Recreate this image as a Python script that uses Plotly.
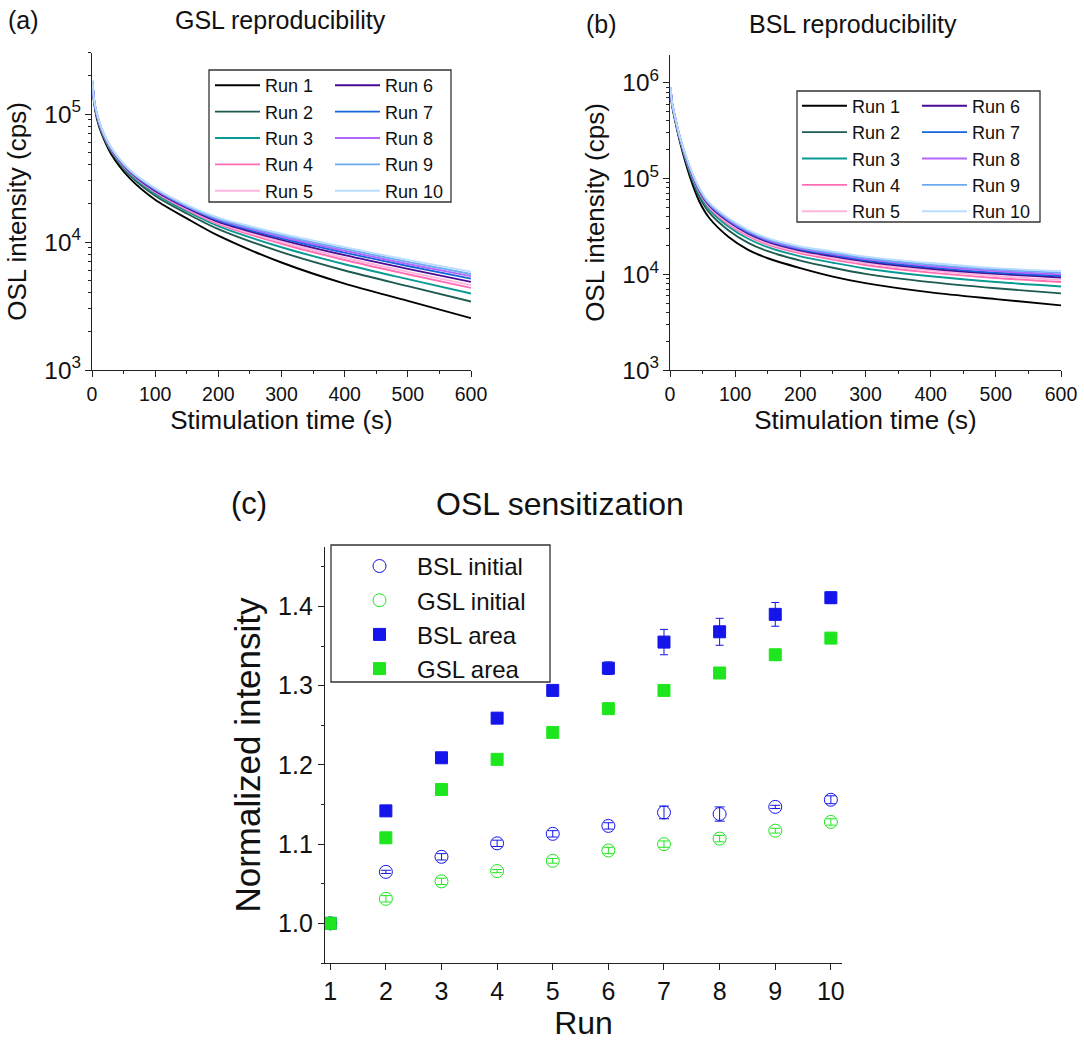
import plotly.graph_objects as go

W, H = 1084, 1046
FONT = "Liberation Sans, Arial, sans-serif"

# ---------------- data ----------------
run_names = [f"Run {i}" for i in range(1, 11)]
run_colors = ["#000000", "#1e5a50", "#0a9a96", "#ff6eb4", "#ffb4dc",
              "#4b0a96", "#1464dc", "#b464ff", "#6eaaf0", "#b9dcff"]

gsl_time = [1, 3, 8, 15, 30, 60, 100, 150, 200, 300, 400, 500, 600]
gsl_run1 = [174000, 126000, 91200, 70800, 49000, 31400, 21400, 15300, 11200, 6920, 4730, 3470, 2540]
gsl_run2 = [177000, 128000, 94300, 73200, 51100, 33200, 23000, 16700, 12600, 8340, 5990, 4520, 3430]
gsl_run3 = [178000, 129000, 95800, 74300, 52100, 34000, 23900, 17400, 13300, 9100, 6700, 5130, 3960]
gsl_run4 = [179000, 130000, 96900, 75200, 52800, 34700, 24500, 17900, 13800, 9690, 7240, 5600, 4380]
gsl_run5 = [180000, 130000, 97400, 75600, 53200, 35000, 24800, 18200, 14100, 10000, 7530, 5850, 4600]
gsl_run6 = [180000, 131000, 98000, 76100, 53600, 35400, 25100, 18500, 14400, 10400, 7890, 6170, 4880]
gsl_run7 = [181000, 131000, 98600, 76500, 54000, 35700, 25500, 18800, 14700, 10700, 8260, 6490, 5170]
gsl_run8 = [181000, 131000, 99000, 76900, 54300, 36000, 25800, 19000, 15000, 11000, 8540, 6740, 5410]
gsl_run9 = [182000, 132000, 99500, 77200, 54700, 36300, 26100, 19200, 15200, 11300, 8830, 6990, 5630]
gsl_run10 = [182000, 132000, 100000, 77600, 55000, 36500, 26300, 19500, 15500, 11600, 9120, 7250, 5870]

bsl_time = [1, 3, 8, 15, 30, 45, 60, 90, 120, 150, 200, 250, 300, 400, 500, 600]
bsl_run1 = [832000, 589000, 398000, 245000, 107000, 57500, 38900, 24500, 18000, 14700, 11600, 9460, 8070, 6460, 5500, 4730]
bsl_run2 = [852000, 603000, 411000, 255000, 116000, 64300, 44300, 28700, 21300, 17400, 13900, 11700, 10100, 8270, 7140, 6320]
bsl_run3 = [864000, 612000, 419000, 261000, 121000, 68700, 47700, 31400, 23500, 19200, 15400, 13200, 11500, 9520, 8290, 7460]
bsl_run4 = [872000, 617000, 424000, 265000, 125000, 71600, 50000, 33200, 25000, 20400, 16500, 14200, 12500, 10400, 9140, 8310]
bsl_run5 = [875000, 620000, 426000, 267000, 127000, 73000, 51100, 34200, 25700, 21000, 17100, 14800, 13000, 10900, 9550, 8730]
bsl_run6 = [879000, 623000, 429000, 269000, 129000, 74600, 52400, 35300, 26600, 21800, 17700, 15400, 13600, 11400, 10100, 9260]
bsl_run7 = [883000, 625000, 431000, 271000, 130000, 75800, 53400, 36100, 27200, 22300, 18100, 15900, 14000, 11800, 10400, 9650]
bsl_run8 = [885000, 627000, 432000, 272000, 132000, 76900, 54200, 36700, 27800, 22700, 18500, 16300, 14400, 12200, 10800, 9980]
bsl_run9 = [889000, 629000, 434000, 273000, 133000, 78100, 55200, 37500, 28400, 23300, 19000, 16700, 14800, 12600, 11200, 10400]
bsl_run10 = [892000, 631000, 436000, 275000, 135000, 79300, 56200, 38400, 29100, 23800, 19500, 17300, 15300, 13100, 11600, 10800]

gsl_runs = [gsl_run1, gsl_run2, gsl_run3, gsl_run4, gsl_run5,
            gsl_run6, gsl_run7, gsl_run8, gsl_run9, gsl_run10]
bsl_runs = [bsl_run1, bsl_run2, bsl_run3, bsl_run4, bsl_run5,
            bsl_run6, bsl_run7, bsl_run8, bsl_run9, bsl_run10]

run_index = [1, 2, 3, 4, 5, 6, 7, 8, 9, 10]
bsl_initial = [1.000, 1.065, 1.084, 1.101, 1.113, 1.123, 1.140, 1.138, 1.147, 1.156]
bsl_initial_err = [0.0, 0.002, 0.004, 0.004, 0.004, 0.004, 0.008, 0.009, 0.002, 0.005]
gsl_initial = [1.000, 1.031, 1.053, 1.066, 1.079, 1.092, 1.100, 1.107, 1.117, 1.128]
gsl_initial_err = [0.0, 0.004, 0.004, 0.002, 0.003, 0.004, 0.004, 0.004, 0.003, 0.004]
bsl_area = [1.000, 1.142, 1.209, 1.259, 1.294, 1.322, 1.355, 1.368, 1.390, 1.411]
bsl_area_err = [0.0, 0.002, 0.002, 0.002, 0.002, 0.008, 0.016, 0.017, 0.015, 0.007]
gsl_area = [1.000, 1.108, 1.169, 1.207, 1.241, 1.271, 1.294, 1.316, 1.339, 1.360]
gsl_area_err = [0.0, 0.002, 0.002, 0.002, 0.002, 0.002, 0.002, 0.003, 0.002, 0.002]

BLUE = "rgb(20,20,235)"
GREEN = "rgb(30,230,30)"

# ---------------- helpers ----------------
def px_x(p):
    return p / W

def px_y(p):
    return 1 - p / H

fig = go.Figure()

legend_of = {
    "a": ["legend", "legend2"],
    "b": ["legend3", "legend4"],
}

for panel, times, runs, xa, ya in [("a", gsl_time, gsl_runs, "x", "y"),
                                   ("b", bsl_time, bsl_runs, "x2", "y2")]:
    for i, (name, vals, col) in enumerate(zip(run_names, runs, run_colors)):
        fig.add_trace(go.Scatter(
            x=times, y=vals, name=name, mode="lines",
            line=dict(color=col, width=1.9, shape="spline", smoothing=0.8),
            xaxis=xa, yaxis=ya,
            legend=legend_of[panel][0] if i < 5 else legend_of[panel][1],
            showlegend=True,
        ))

def sens_trace(name, y, err, color, symbol, size, capw):
    return go.Scatter(
        x=run_index, y=y, name=name, mode="markers",
        marker=dict(symbol=symbol, size=size, color=color,
                    line=dict(color=color, width=1)),
        error_y=dict(type="data", array=err, visible=True, color=color,
                     thickness=1, width=capw),
        xaxis="x3", yaxis="y3", legend="legend5",
    )

fig.add_trace(sens_trace("BSL initial", bsl_initial, bsl_initial_err, BLUE, "circle-open", 13, 5))
fig.add_trace(sens_trace("GSL initial", gsl_initial, gsl_initial_err, GREEN, "circle-open", 13, 5))
fig.add_trace(sens_trace("BSL area", bsl_area, bsl_area_err, BLUE, "square", 12, 4))
fig.add_trace(sens_trace("GSL area", gsl_area, gsl_area_err, GREEN, "square", 12, 4))

# ---------------- axes ----------------
axis_common = dict(showline=True, linecolor="#222", linewidth=1.3, ticks="outside",
                   ticklen=6, tickwidth=1.2, tickcolor="#222", showgrid=False,
                   zeroline=False, mirror=False, automargin=False)

tick_font_ab = dict(family=FONT, size=19.5, color="#111")
title_font_ab = dict(family=FONT, size=26, color="#111")

xdom_a = [px_x(92), px_x(471)]
xdom_b = [px_x(670), px_x(1061)]
ydom_a = [px_y(370), px_y(53)]
ydom_b = [px_y(370), px_y(55)]
xdom_c = [px_x(325), px_x(842)]
ydom_c = [px_y(963), px_y(547)]

fig.update_layout(
    xaxis=dict(domain=xdom_a, range=[0, 600], dtick=100, anchor="y",
               tickfont=tick_font_ab,
               title=dict(text="Stimulation time (s)", font=title_font_ab, standoff=6),
               minor=dict(dtick=50, ticks="outside", ticklen=3, tickcolor="#222"),
               **axis_common),
    yaxis=dict(domain=ydom_a, type="log", range=[3, 5.477], dtick=1, anchor="x",
               exponentformat="power", tickfont=tick_font_ab,
               title=dict(text="OSL intensity (cps)", font=title_font_ab, standoff=10),
               minor=dict(dtick="D1", ticks="outside", ticklen=3, tickcolor="#222"),
               **axis_common),
    xaxis2=dict(domain=xdom_b, range=[0, 600], dtick=100, anchor="y2",
                tickfont=tick_font_ab,
                title=dict(text="Stimulation time (s)", font=title_font_ab, standoff=6),
                minor=dict(dtick=50, ticks="outside", ticklen=3, tickcolor="#222"),
                **axis_common),
    yaxis2=dict(domain=ydom_b, type="log", range=[3, 6.29], dtick=1, anchor="x2",
                exponentformat="power", tickfont=tick_font_ab,
                title=dict(text="OSL intensity (cps)", font=title_font_ab, standoff=10),
                minor=dict(dtick="D1", ticks="outside", ticklen=3, tickcolor="#222"),
                **axis_common),
    xaxis3=dict(domain=xdom_c, range=[0.906, 10.2], dtick=1, anchor="y3",
                tickfont=dict(family=FONT, size=25, color="#111"),
                title=dict(text="Run", font=dict(family=FONT, size=32, color="#111"), standoff=4),
                **axis_common),
    yaxis3=dict(domain=ydom_c, range=[0.95, 1.475], dtick=0.1, tick0=1.0, anchor="x3",
                tickformat=".1f", tickfont=dict(family=FONT, size=25, color="#111"),
                title=dict(text="Normalized intensity", font=dict(family=FONT, size=35, color="#111"), standoff=6),
                minor=dict(dtick=0.05, ticks="outside", ticklen=3, tickcolor="#222"),
                **axis_common),
)

# ---------------- legends ----------------
def leg(x_px, top_px, size, itemwidth=30):
    return dict(x=px_x(x_px), y=px_y(top_px), xanchor="left", yanchor="top",
                xref="paper", yref="paper", orientation="v",
                bgcolor="rgba(0,0,0,0)", borderwidth=0, itemwidth=itemwidth,
                font=dict(family=FONT, size=size, color="#111"),
                traceorder="normal")

fig.update_layout(
    legend=leg(210, 67, 18, 45),
    legend2=leg(330, 67, 18, 45),
    legend3=leg(797, 87.5, 18, 45),
    legend4=leg(917, 87.5, 18, 45),
    legend5=leg(342, 543.9, 24, 65),
)

box_line = dict(color="#333", width=1.3)
shapes = []
for (x0, y0, x1, y1) in [(209, 70, 451, 202), (797, 91, 1040, 222), (331, 545, 550, 682)]:
    shapes.append(dict(type="rect", xref="paper", yref="paper",
                       x0=px_x(x0), x1=px_x(x1), y0=px_y(y1), y1=px_y(y0),
                       line=box_line, fillcolor="rgba(0,0,0,0)", layer="above"))

annotations = [
    dict(text="(a)", x=px_x(6), y=px_y(20), xanchor="left", yanchor="middle", size=25),
    dict(text="GSL reproducibility", x=px_x(280), y=px_y(20), xanchor="center", yanchor="middle", size=25),
    dict(text="(b)", x=px_x(584), y=px_y(24), xanchor="left", yanchor="middle", size=25),
    dict(text="BSL reproducibility", x=px_x(853), y=px_y(24), xanchor="center", yanchor="middle", size=25),
    dict(text="(c)", x=px_x(229), y=px_y(504), xanchor="left", yanchor="middle", size=31),
    dict(text="OSL sensitization", x=px_x(560), y=px_y(504), xanchor="center", yanchor="middle", size=32),
]
ann_list = []
for a in annotations:
    s = a.pop("size")
    ann_list.append(dict(xref="paper", yref="paper", showarrow=False,
                         font=dict(family=FONT, size=s, color="#111"), **a))

fig.update_layout(
    width=W, height=H,
    margin=dict(l=0, r=0, t=0, b=0),
    paper_bgcolor="white", plot_bgcolor="white",
    font=dict(family=FONT, color="#111"),
    shapes=shapes, annotations=ann_list,
    showlegend=True,
)

fig.write_html("out.html")
